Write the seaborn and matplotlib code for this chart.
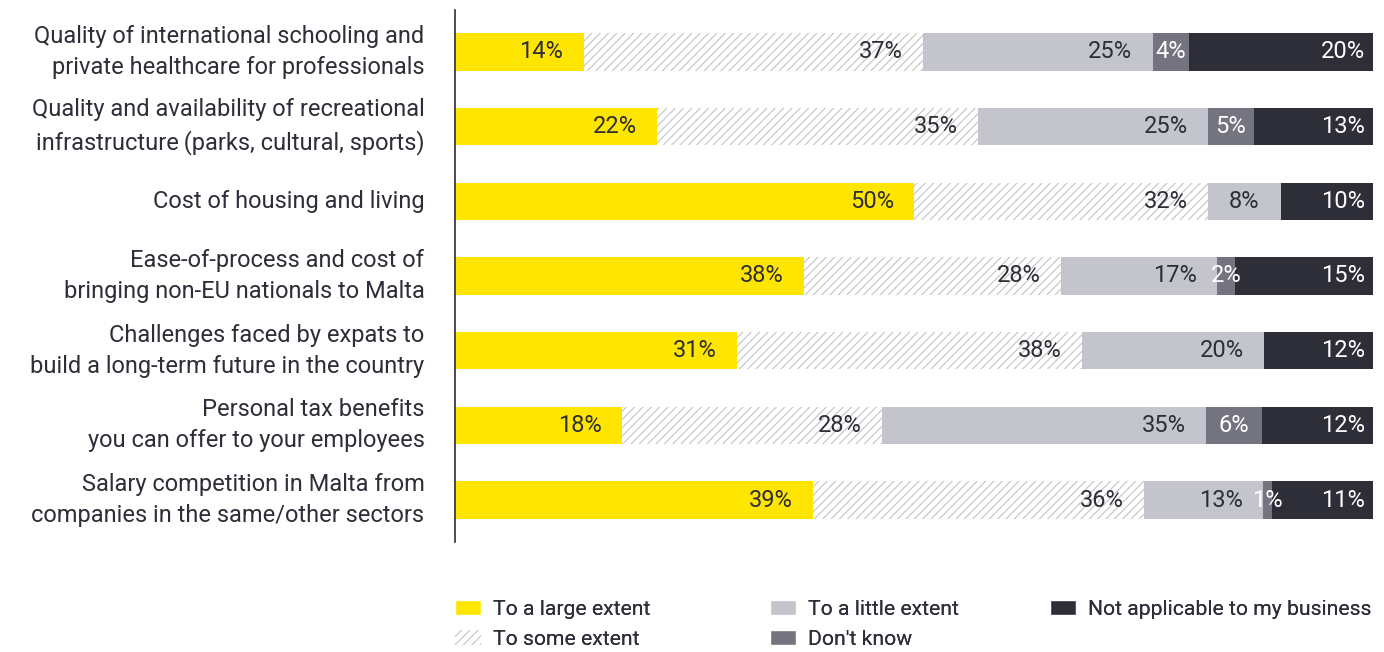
import matplotlib.pyplot as plt
from matplotlib.patches import Patch
import numpy as np
import pandas as pd
import seaborn as sns

categories = [
    "Quality of international schooling and\nprivate healthcare for professionals",
    "Quality and availability of recreational\ninfrastructure\u2009(parks, cultural, sports)",
    "Cost of housing and living",
    "Ease-of-process and cost of\nbringing non-EU nationals to Malta",
    "Challenges faced by expats to\nbuild a long-term future in the country",
    "Personal tax benefits\nyou can offer to your employees",
    "Salary competition in Malta from\ncompanies in the same/other sectors",
]
series = ["To a large extent", "To some extent", "To a little extent",
          "Don't know", "Not applicable to my business"]
large = [14, 22, 50, 38, 31, 18, 39]
some = [37, 35, 32, 28, 38, 28, 36]
little = [25, 25, 8, 17, 20, 35, 13]
dont_know = [4, 5, 0, 2, 0, 6, 1]
not_applicable = [20, 13, 10, 15, 12, 12, 11]

colors = ["#FFE600", "#FFFFFF", "#C4C4CD", "#747480", "#2E2E38"]
text_colors = ["#2E2E38", "#2E2E38", "#2E2E38", "#FFFFFF", "#FFFFFF"]
HATCH_COLOR = "#C4C4C4"

sns.set_theme(style="white")
plt.rcParams["font.family"] = ["Roboto", "DejaVu Sans"]
plt.rcParams["hatch.color"] = HATCH_COLOR
plt.rcParams["hatch.linewidth"] = 0.8

df = pd.DataFrame({"category": categories, series[0]: large, series[1]: some,
                   series[2]: little, series[3]: dont_know, series[4]: not_applicable})
vals = df[series].to_numpy(dtype=float)
vals = vals / vals.sum(axis=1, keepdims=True) * 100  # rows drawn as 100%
cum = np.cumsum(vals, axis=1)

fig = plt.figure(figsize=(13.84, 6.52), dpi=100)
ax = fig.add_axes([455 / 1384, 1 - 542 / 652, 918 / 1384, 532 / 652])

# overlay cumulative bars, widest first
for j in range(len(series) - 1, -1, -1):
    n_before = len(ax.patches)
    sns.barplot(x=cum[:, j], y=df["category"], orient="h", color=colors[j],
                width=0.5, linewidth=0, saturation=1, ax=ax)
    if j == 1:
        for p in ax.patches[n_before:]:
            p.set_hatch("////")
            p.set_edgecolor(HATCH_COLOR)
            p.set_linewidth(0.01)

for i in range(len(categories)):
    for j in range(len(series)):
        v = df[series[j]].iloc[i]
        if v == 0:
            continue
        end = cum[i, j]
        start = end - vals[i, j]
        if v < 10:
            x, ha = (start + end) / 2, "center"
        elif j == len(series) - 1:
            x, ha = end - 0.9, "right"
        else:
            x, ha = end - 2.2, "right"
        ax.text(x, i, f"{v}%", ha=ha, va="center", fontsize=17,
                color=text_colors[j])

ax.set_xlim(0, 100)
ax.set_ylim(6.56, -0.56)
ax.set_xlabel("")
ax.set_ylabel("")
ax.set_xticks([])
ax.tick_params(axis="y", length=0, pad=22, labelsize=17, labelcolor="#2E2E38")
for lab in ax.get_yticklabels():
    lab.set_multialignment("right")
    lab.set_linespacing(1.45)
    lab.set_verticalalignment("center")
sns.despine(ax=ax, left=False, bottom=True)
ax.spines["left"].set_color("#2E2E38")
ax.spines["left"].set_linewidth(1.2)

hatch_handle = Patch(facecolor="white", edgecolor=HATCH_COLOR, linewidth=0.01,
                     hatch="////", label=series[1])
legend_cols = [
    ([Patch(facecolor=colors[0], label=series[0]), hatch_handle], 455),
    ([Patch(facecolor=colors[2], label=series[2]),
      Patch(facecolor=colors[3], label=series[3])], 770),
    ([Patch(facecolor=colors[4], label=series[4])], 1050),
]
for handles, x0 in legend_cols:
    leg = fig.legend(handles=handles, loc="upper left",
                     bbox_to_anchor=(x0 / 1384, 1 - 600 / 652), frameon=False,
                     fontsize=15.2, handlelength=1.25, handleheight=0.7,
                     handletextpad=0.55, labelspacing=0.5, borderpad=0,
                     borderaxespad=0, labelcolor="#2E2E38")
    fig.add_artist(leg)

fig.savefig("out.png", dpi=100)
